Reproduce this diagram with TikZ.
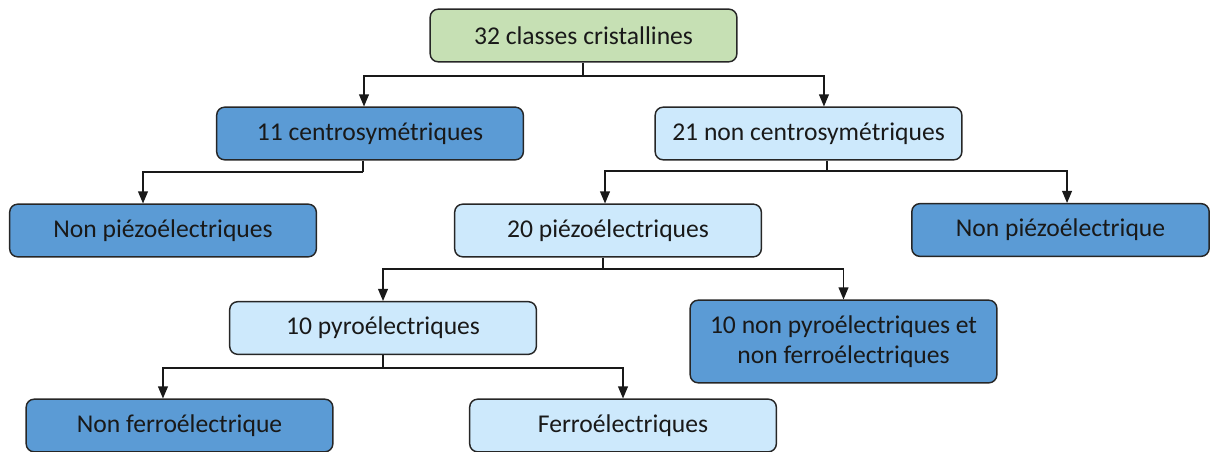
\documentclass[tikz,border=0pt]{standalone}
\usepackage{fontspec}
\setmainfont{Carlito}
\usetikzlibrary{positioning,arrows}
\definecolor{vertclair}{RGB}{198,224,180}
\definecolor{bleufonce}{RGB}{91,155,213}
\definecolor{bleuclair}{RGB}{205,233,252}
\tikzset{
  boite/.style={draw=black!85, line width=1.1pt, rounded corners=6pt,
    minimum width=230pt, minimum height=39.5pt, align=center, inner sep=2pt,
    font=\fontsize{19.2}{22.5}\selectfont, text=black!90},
  fonce/.style={boite, fill=bleufonce},
  clair/.style={boite, fill=bleuclair},
  vert/.style={boite, fill=vertclair},
  lien/.style={line width=1.1pt, draw=black!90},
  fleche/.style={lien, -triangle 45}
}

\begin{document}
\begin{tikzpicture}[x=0.75pt, y=-0.75pt]
\useasboundingbox (0,0) rectangle (1219,452);

% les boites
\node[vert]  (classes)    at (583.5,35.5) {32 classes cristallines};
\node[fonce] (centro)     at (370,133.5)  {11 centrosymétriques};
\node[clair] (noncentro)  at (808.5,133.5) {21 non centrosymétriques};
\node[fonce] (nonpiezoA)  at (163,230.5)  {Non piézoélectriques};
\node[clair] (piezo)      at (608,230.5)  {20 piézoélectriques};
\node[fonce, minimum width=223pt] (nonpiezoB) at (1060.5,230) {Non piézoélectrique};
\node[clair] (pyro)       at (383,328)    {10 pyroélectriques};
\node[fonce, minimum height=62pt] (nonpyro) at (843.5,341.5) {10 non pyroélectriques et\\non ferroélectriques};
\node[fonce] (nonferro)   at (179.5,425.5) {Non ferroélectrique};
\node[clair] (ferro)      at (623,425.5)  {Ferroélectriques};

% les liens
\coordinate (j1) at (583,76);
\draw[lien] (j1 |- classes.south) -- (j1);
\draw[fleche] (j1) -| ([xshift=-4.5pt]centro.north);
\draw[fleche] (j1) -| ([xshift=11.6pt]noncentro.north);

\coordinate (j2) at (363,172);
\draw[lien] (j2 |- centro.south) -- (j2);
\draw[fleche] (j2) -| ([xshift=-15pt]nonpiezoA.north);

\coordinate (j3) at (827,171);
\draw[lien] (j3 |- noncentro.south) -- (j3);
\draw[fleche] (j3) -| ([xshift=-2.25pt]piezo.north);
\draw[fleche] (j3) -| ([xshift=4.9pt]nonpiezoB.north);

\coordinate (j4) at (603,269);
\draw[lien] (j4 |- piezo.south) -- (j4);
\draw[fleche] (j4) -| (pyro.north);
\draw[fleche] (j4) -| (nonpyro.north);

\coordinate (j5) at (383,368);
\draw[lien] (pyro.south) -- (j5);
\draw[fleche] (j5) -| ([xshift=-12.4pt]nonferro.north);
\draw[fleche] (j5) -| (ferro.north);
\end{tikzpicture}
\end{document}
